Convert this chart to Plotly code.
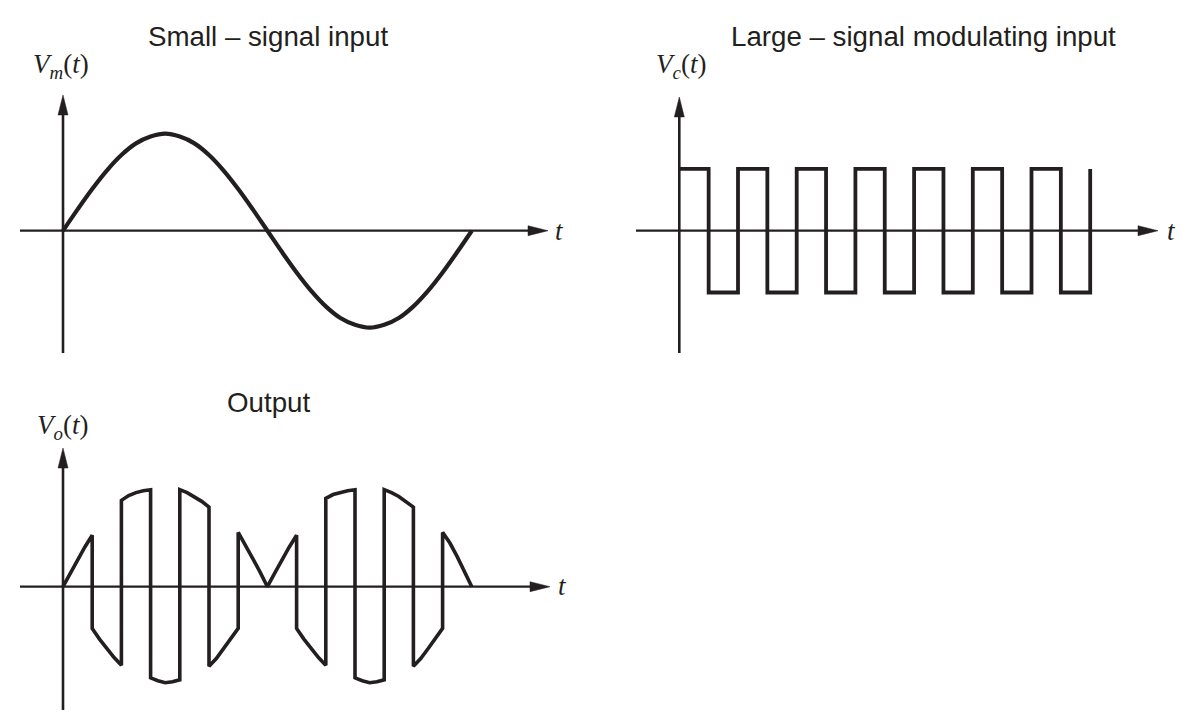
import plotly.graph_objects as go

# ---------------- data ----------------
# time in units of half-periods of the square-wave carrier
t_fine = [i * 0.5 for i in range(29)]
vm_values = [0.00, 0.22, 0.43, 0.62, 0.78, 0.90, 0.97, 1.00, 0.97, 0.90, 0.78, 0.62, 0.43, 0.22,
             0.00, -0.22, -0.43, -0.62, -0.78, -0.90, -0.97, -1.00, -0.97, -0.90, -0.78, -0.62,
             -0.43, -0.22, 0.00]

t_edges = list(range(15))
vc_levels = [1, -1, 1, -1, 1, -1, 1, -1, 1, -1, 1, -1, 1, -1, 1]

# output: values at 0, 1/4, 1/2, 3/4 and the end of every carrier half-period
vo_start = [0.00, -0.43, 0.89, -0.94, 1.00, -0.82, 0.56, 0.00, -0.43, 0.91, -0.94, 1.00, -0.82, 0.56]
vo_q1 = [0.14, -0.54, 0.94, -0.97, 0.97, -0.74, 0.43, 0.14, -0.54, 0.95, -0.97, 0.97, -0.74, 0.45]
vo_mid = [0.28, -0.64, 0.97, -0.99, 0.93, -0.64, 0.29, 0.28, -0.64, 0.97, -0.99, 0.93, -0.64, 0.31]
vo_q3 = [0.41, -0.73, 0.99, -0.98, 0.88, -0.54, 0.15, 0.41, -0.73, 0.99, -0.98, 0.88, -0.54, 0.16]
vo_end = [0.53, -0.81, 1.00, -0.96, 0.82, -0.43, 0.00, 0.53, -0.81, 1.00, -0.96, 0.82, -0.43, 0.00]

titles = ["Small – signal input", "Large – signal modulating input", "Output"]
ylabels = ["<i>V</i><sub><i>m</i></sub>(<i>t</i>)",
           "<i>V</i><sub><i>c</i></sub>(<i>t</i>)",
           "<i>V</i><sub><i>o</i></sub>(<i>t</i>)"]
xlabel = "<i>t</i>"

# ---------------- layout constants (pixels) ----------------
W, H = 1190, 724
INK = "#231f20"


class Panel:
    def __init__(self, x0, xppu, y0, yppu, dom_x, dom_y):
        self.x0, self.xppu, self.y0, self.yppu = x0, xppu, y0, yppu
        self.dom_x, self.dom_y = dom_x, dom_y

    def dx(self, px):
        return (px - self.x0) / self.xppu

    def dy(self, py):
        return (self.y0 - py) / self.yppu

    def xaxis(self):
        a, b = self.dom_x
        return dict(domain=[a / W, b / W], range=[self.dx(a), self.dx(b)], visible=False, fixedrange=True)

    def yaxis(self):
        top, bot = self.dom_y
        return dict(domain=[1 - bot / H, 1 - top / H], range=[self.dy(bot), self.dy(top)],
                    visible=False, fixedrange=True)


p1 = Panel(63, 29.2, 230.7, 97, (0, 595), (85, 370))
p2 = Panel(679.3, 29.35, 230.7, 61.8, (598, 1190), (85, 370))
p3 = Panel(63, 29.2, 586.7, 97, (0, 595), (435, 724))
panels = [p1, p2, p3]

# axis extents in pixels: (x_left, x_tip, y_bottom, y_tip)
axis_px = [(20, 548, 353, 95), (636, 1158, 353, 97), (20, 550, 710, 448)]

fig = go.Figure()

# small-signal sine
fig.add_trace(go.Scatter(x=t_fine, y=vm_values, mode="lines", xaxis="x", yaxis="y",
                         line=dict(color=INK, width=4.2, shape="spline", smoothing=1.0),
                         hoverinfo="skip"))
# square-wave carrier
fig.add_trace(go.Scatter(x=t_edges, y=vc_levels, mode="lines", xaxis="x2", yaxis="y2",
                         line=dict(color=INK, width=3.8, shape="hv"), hoverinfo="skip"))
# output
vo_x, vo_y = [], []
for k in range(len(vo_start)):
    a, b = t_edges[k], t_edges[k + 1]
    vo_x += [a, a + (b - a) * 0.25, a + (b - a) * 0.5, a + (b - a) * 0.75, b]
    vo_y += [vo_start[k], vo_q1[k], vo_mid[k], vo_q3[k], vo_end[k]]
fig.add_trace(go.Scatter(x=vo_x, y=vo_y, mode="lines", xaxis="x3", yaxis="y3",
                         line=dict(color=INK, width=3.6), hoverinfo="skip"))

shapes = []
annotations = []
refs = [("x", "y"), ("x2", "y2"), ("x3", "y3")]
for p, (xr, yr), (xl, xt, yb, yt) in zip(panels, refs, axis_px):
    AL = 20  # arrow length px
    shapes.append(dict(type="line", xref=xr, yref=yr, x0=p.dx(xl), x1=p.dx(xt - AL + 2), y0=0, y1=0,
                       line=dict(color=INK, width=2.2)))
    shapes.append(dict(type="line", xref=xr, yref=yr, x0=0, x1=0, y0=p.dy(yb), y1=p.dy(yt + AL - 2),
                       line=dict(color=INK, width=2.6)))
    shapes.append(dict(type="path", xref=xr, yref=yr, xsizemode="pixel", ysizemode="pixel",
                       xanchor=p.dx(xt), yanchor=0, path="M0,0L-%d,5L-%d,-5Z" % (AL, AL),
                       fillcolor=INK, line=dict(color=INK, width=0.5)))
    shapes.append(dict(type="path", xref=xr, yref=yr, xsizemode="pixel", ysizemode="pixel",
                       xanchor=0, yanchor=p.dy(yt), path="M0,0L-5,-%dL5,-%dZ" % (AL, AL),
                       fillcolor=INK, line=dict(color=INK, width=0.5)))


def ann(text, cx, cy, family, size):
    return dict(text=text, x=cx / W, y=1 - cy / H, xref="paper", yref="paper", showarrow=False,
                xanchor="center", yanchor="middle", font=dict(family=family, size=size, color=INK))


sans = "Liberation Sans, Arial, sans-serif"
serif = "Liberation Serif, Times New Roman, serif"
title_pos = [(268, 37), (923.5, 37), (268, 402)]
ylab_pos = [(61.5, 66), (680.5, 66), (62.5, 427)]
tlab_pos = [(559, 231), (1171, 231), (562, 586)]
for i in range(3):
    annotations.append(ann(titles[i], *title_pos[i], sans, 27.7))
    annotations.append(ann(ylabels[i], *ylab_pos[i], serif, 27))
    annotations.append(ann(xlabel, *tlab_pos[i], serif, 27))

fig.update_layout(
    width=W, height=H, margin=dict(l=0, r=0, t=0, b=0),
    paper_bgcolor="white", plot_bgcolor="white", showlegend=False,
    xaxis=p1.xaxis(), yaxis=p1.yaxis(),
    xaxis2=dict(p2.xaxis(), anchor="y2"), yaxis2=dict(p2.yaxis(), anchor="x2"),
    xaxis3=dict(p3.xaxis(), anchor="y3"), yaxis3=dict(p3.yaxis(), anchor="x3"),
    shapes=shapes, annotations=annotations,
)

fig.write_html("out.html")
